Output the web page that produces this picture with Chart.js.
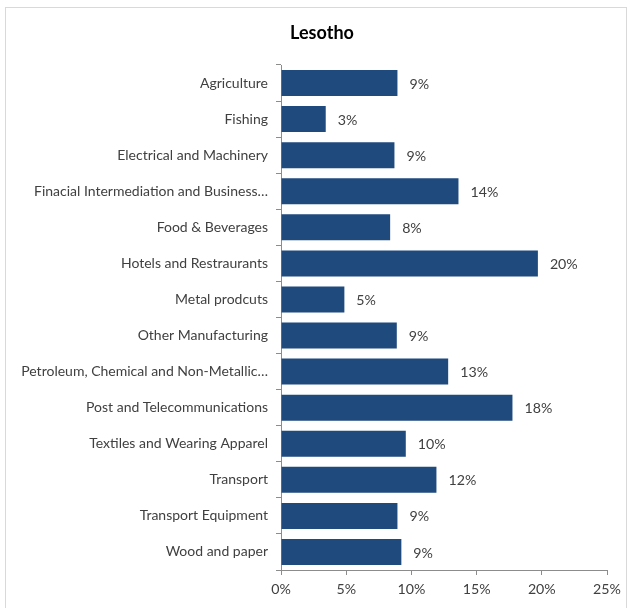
<!DOCTYPE html>
<html>
<head>
<meta charset="utf-8">
<script src="https://cdn.jsdelivr.net/npm/chart.js@4/dist/chart.umd.min.js"></script>
<style>
  html, body { margin: 0; padding: 0; background: #fff; }
  #wrap { position: relative; width: 631px; height: 608px; }
  #frame { position: absolute; left: 5px; top: 7px; width: 622px; height: 610px; border: 1px solid #d9d9d9; box-sizing: border-box; pointer-events: none; }
  canvas { position: absolute; left: 0; top: 0; }
</style>
</head>
<body>
<div id="wrap">
  <canvas id="c" width="631" height="608"></canvas>
  <div id="frame"></div>
</div>
<script>
// Sector shares for Lesotho (percent)
const chartTitle = 'Lesotho';
const sectors = [
  'Agriculture',
  'Fishing',
  'Electrical and Machinery',
  'Finacial Intermediation and Business…',
  'Food & Beverages',
  'Hotels and Restraurants',
  'Metal prodcuts',
  'Other Manufacturing',
  'Petroleum, Chemical and Non-Metallic…',
  'Post and Telecommunications',
  'Textiles and Wearing Apparel',
  'Transport',
  'Transport Equipment',
  'Wood and paper'
];
const shares = [8.93, 3.43, 8.70, 13.61, 8.37, 19.70, 4.86, 8.88, 12.82, 17.75, 9.57, 11.92, 8.93, 9.23];
const axisMax = 25;
const axisStep = 5;

const FONT = 'Lato, "Open Sans", "Liberation Sans", sans-serif';
const TEXT = '#404040';
const AXIS = '#8c8c8c';

// Chart heading, centred a little right of the canvas middle
const heading = {
  id: 'heading',
  afterDraw(chart) {
    const ctx = chart.ctx;
    ctx.save();
    ctx.font = 'bold 18px ' + FONT;
    ctx.fillStyle = '#000';
    ctx.textAlign = 'center';
    ctx.textBaseline = 'middle';
    ctx.fillText(chartTitle, 322, 33);
    ctx.restore();
  }
};

// Writes the rounded share just past the end of each bar
const valueLabels = {
  id: 'valueLabels',
  afterDatasetsDraw(chart) {
    const ctx = chart.ctx;
    const meta = chart.getDatasetMeta(0);
    ctx.save();
    ctx.font = '14.2px ' + FONT;
    ctx.fillStyle = TEXT;
    ctx.textAlign = 'left';
    ctx.textBaseline = 'middle';
    meta.data.forEach((bar, i) => {
      ctx.fillText(Math.round(shares[i]) + '%', bar.x + 12, bar.y + 1);
    });
    ctx.restore();
  }
};

new Chart(document.getElementById('c'), {
  type: 'bar',
  data: {
    labels: sectors,
    datasets: [{
      data: shares,
      backgroundColor: '#1f4a7e',
      borderWidth: 0,
      barPercentage: 0.72,
      categoryPercentage: 1
    }]
  },
  options: {
    indexAxis: 'y',
    responsive: false,
    animation: false,
    devicePixelRatio: 1,
    layout: { padding: { top: 65, right: 24, bottom: 0, left: 0 } },
    plugins: {
      legend: { display: false },
      tooltip: { enabled: false },
      title: { display: false }
    },
    scales: {
      y: {
        afterFit(scale) { scale.width = 281; },
        grid: { drawOnChartArea: false, drawTicks: true, tickLength: 5, color: AXIS, offset: true },
        border: { display: true, color: AXIS },
        ticks: { color: TEXT, font: { family: FONT, size: 14 }, padding: 8, autoSkip: false }
      },
      x: {
        min: 0,
        max: axisMax,
        afterFit(scale) { scale.height = 38; },
        grid: { drawOnChartArea: false, drawTicks: true, tickLength: 5, color: AXIS },
        border: { display: true, color: AXIS },
        ticks: {
          stepSize: axisStep,
          color: TEXT,
          font: { family: FONT, size: 14.2 },
          padding: 6,
          callback: v => v + '%'
        }
      }
    }
  },
  plugins: [valueLabels, heading]
});
</script>
</body>
</html>
